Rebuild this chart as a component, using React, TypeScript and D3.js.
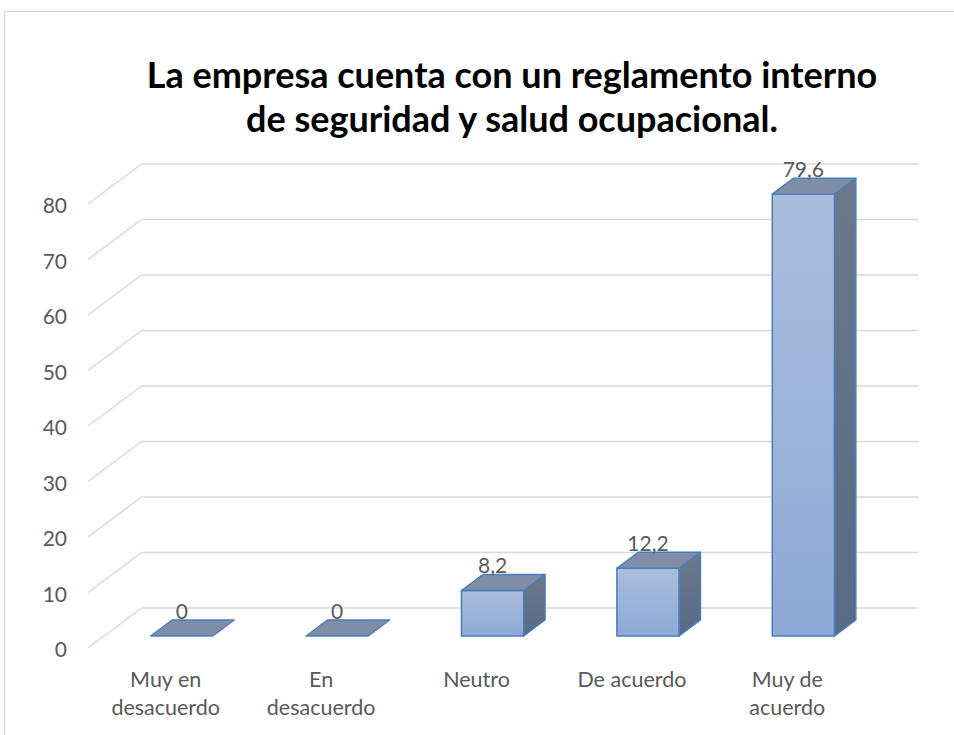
import * as d3 from 'd3';

const categories = ['Muy en desacuerdo', 'En desacuerdo', 'Neutro', 'De acuerdo', 'Muy de acuerdo'];
const categoryLines = [['Muy en', 'desacuerdo'], ['En', 'desacuerdo'], ['Neutro'], ['De acuerdo'], ['Muy de', 'acuerdo']];
const values = [0, 0, 8.2, 12.2, 79.6];
const valueLabels = ['0', '0', '8,2', '12,2', '79,6'];
const yTicks = [0, 10, 20, 30, 40, 50, 60, 70, 80];
const titleLines = ['La empresa cuenta con un reglamento interno', 'de seguridad y salud ocupacional.'];

export default function App() {
  const width = 954;
  const height = 735;
  // depth vector of the 3D box (front -> back)
  const depthX = 53.5;
  const depthY = -40;
  const frontLeft = 88;
  const wallWidth = 777;

  // y on the back wall
  const yBack = d3.scaleLinear().domain([0, 80]).range([608, 164]);
  // categories along the front plane
  const x = d3.scaleBand<string>()
    .domain(categories)
    .range([frontLeft, frontLeft + wallWidth])
    .paddingInner(0.6)
    .paddingOuter(0.3);

  const d0 = 0.3, d1 = 0.7;
  const font = 'Lato, "Liberation Sans", sans-serif';
  const grey = '#595959';

  return (
    <svg width={width} height={height} style={{ position: 'absolute', left: 0, top: 0, background: '#fff' }}>
      <defs>
        <linearGradient id="front" x1="0" y1="0" x2="0" y2="1">
          <stop offset="0" stopColor="#abbddc" />
          <stop offset="1" stopColor="#8eaad6" />
        </linearGradient>
        <linearGradient id="side" x1="0" y1="0" x2="0" y2="1">
          <stop offset="0" stopColor="#6b788c" />
          <stop offset="1" stopColor="#596a86" />
        </linearGradient>
      </defs>
      <rect x={4.5} y={11.5} width={980} height={800} fill="#fff" stroke="#d9d9d9" strokeWidth={1.5} />

      {titleLines.map((t, i) => (
        <text key={i} x={512} y={88 + i * 44} textAnchor="middle" fontFamily={font} fontWeight="bold"
          fontSize={36} fill="#000">{t}</text>
      ))}

      {/* gridlines: back wall and side wall */}
      {yTicks.map(t => {
        const yb = yBack(t);
        return (
          <g key={t}>
            <line x1={frontLeft + depthX} x2={frontLeft + depthX + wallWidth} y1={yb} y2={yb} stroke="#d9d9d9" strokeWidth={1.5} />
            <line x1={frontLeft} x2={frontLeft + depthX} y1={yb - depthY} y2={yb} stroke="#d9d9d9" strokeWidth={1.5} />
            <text x={67} y={yb - depthY + 2} dy="0.35em" textAnchor="end" fontFamily={font} fontSize={21} fill={grey}>{t}</text>
          </g>
        );
      })}

      {/* bars */}
      {categories.map((c, i) => {
        const v = values[i];
        const bx = (x(c) ?? 0) + depthX * d0;
        const bw = x.bandwidth();
        const yBot = yBack(0) - depthY * (1 - d0);
        const yTop = yBack(v) - depthY * (1 - d0);
        const ox = depthX * (d1 - d0);
        const oy = depthY * (d1 - d0);
        const top = `M${bx},${yTop}L${bx + ox},${yTop + oy}L${bx + bw + ox},${yTop + oy}L${bx + bw},${yTop}Z`;
        const side = `M${bx + bw},${yTop}L${bx + bw + ox},${yTop + oy}L${bx + bw + ox},${yBot + oy}L${bx + bw},${yBot}Z`;
        return (
          <g key={c}>
            {v > 0 && <path d={side} fill="url(#side)" stroke="#4a7ebb" strokeWidth={1.5} strokeLinejoin="round" />}
            {v > 0 && <rect x={bx} y={yTop} width={bw} height={yBot - yTop} fill="url(#front)" stroke="#4a7ebb" strokeWidth={1.5} />}
            <path d={top} fill="#7f8ea6" stroke="#4a7ebb" strokeWidth={1.5} strokeLinejoin="round" />
            <text x={bx + bw / 2} y={yTop + oy - 1.5} textAnchor="middle" fontFamily={font} fontSize={21} fill={grey}>{valueLabels[i]}</text>
          </g>
        );
      })}

      {/* category labels */}
      {categories.map((c, i) => (
        <text key={c} textAnchor="middle" fontFamily={font} fontSize={21.5} fill={grey}>
          {categoryLines[i].map((l, j) => (
            <tspan key={j} x={(x(c) ?? 0) + x.bandwidth() / 2} y={687 + j * 28}>{l}</tspan>
          ))}
        </text>
      ))}
    </svg>
  );
}
